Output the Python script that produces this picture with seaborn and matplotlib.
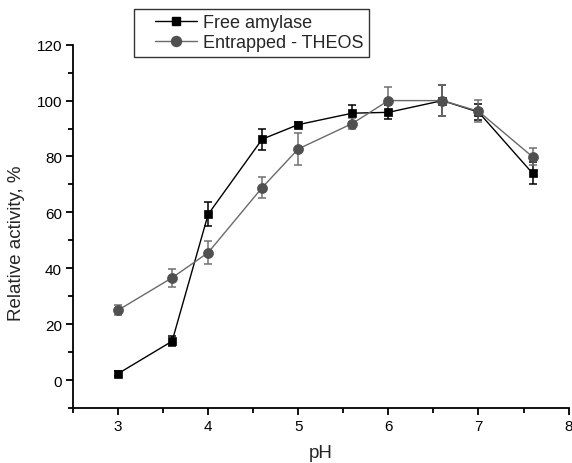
import numpy as np
import pandas as pd
import matplotlib
matplotlib.use("Agg")
import matplotlib.pyplot as plt
from matplotlib.ticker import MultipleLocator
from matplotlib.lines import Line2D
from matplotlib.legend_handler import HandlerLine2D
import seaborn as sns

ph = [3.0, 3.6, 4.0, 4.6, 5.0, 5.6, 6.0, 6.6, 7.0, 7.6]
free_activity = [2.3, 13.9, 59.3, 86.2, 91.4, 95.5, 95.8, 100.0, 95.9, 74.0]
free_err = [0.8, 1.7, 4.3, 3.7, 1.0, 3.0, 2.5, 5.5, 3.0, 4.0]
theos_activity = [25.0, 36.6, 45.6, 68.9, 82.7, 91.8, 100.0, 100.0, 96.2, 79.9]
theos_err = [1.7, 3.2, 4.1, 3.7, 5.7, 2.0, 5.0, 5.5, 4.0, 3.0]
series_names = ["Free amylase", "Entrapped - THEOS"]

sns.set_style("ticks")
plt.rcParams["font.family"] = ["Liberation Sans", "DejaVu Sans"]

df = pd.DataFrame({
    "pH": ph * 2,
    "activity": free_activity + theos_activity,
    "err": free_err + theos_err,
    "series": [series_names[0]] * len(ph) + [series_names[1]] * len(ph),
})

marker_colors = {series_names[0]: "#000000", series_names[1]: "#505050"}
line_colors = {series_names[0]: "#000000", series_names[1]: "#6a6a6a"}
err_colors = {series_names[0]: "#000000", series_names[1]: "#707070"}
markers = {series_names[0]: "s", series_names[1]: "o"}
sizes = {series_names[0]: 5.6, series_names[1]: 7.2}

fig = plt.figure(figsize=(5.72, 4.64), dpi=100)
ax = fig.add_axes([0.1276, 0.1185, 0.8664, 0.783])

for name in series_names:
    sub = df[df["series"] == name]
    ax.errorbar(sub["pH"], sub["activity"], yerr=sub["err"], fmt="none",
                ecolor=err_colors[name], elinewidth=1.1, capsize=3, capthick=1.1,
                zorder=2)
    sns.lineplot(data=sub, x="pH", y="activity", ax=ax, color=line_colors[name],
                 linewidth=1.0, marker=markers[name], markersize=sizes[name],
                 markerfacecolor=marker_colors[name],
                 markeredgecolor=marker_colors[name], markeredgewidth=0.5,
                 errorbar=None, legend=False, zorder=3)

ax.set_xlim(2.5, 8)
ax.set_ylim(-10, 120)
ax.xaxis.set_minor_locator(MultipleLocator(0.5))
ax.yaxis.set_minor_locator(MultipleLocator(10))
ax.set_xticks([3, 4, 5, 6, 7, 8])
ax.set_yticks([0, 20, 40, 60, 80, 100, 120])
ax.tick_params(axis="both", which="major", direction="out", length=5, width=1.3,
               labelsize=11, color="black", labelcolor="black", pad=3)
ax.tick_params(axis="both", which="minor", direction="out", length=3.5,
               width=1.3, color="black")
for side in ("top", "right"):
    ax.spines[side].set_visible(False)
for side in ("left", "bottom"):
    ax.spines[side].set_linewidth(1.3)
    ax.spines[side].set_color("black")

ax.set_xlabel("pH", fontsize=13.5, labelpad=8)
ax.set_ylabel("Relative activity, %", fontsize=13.5)
ax.yaxis.set_label_coords(-0.096, 0.455)


class OffsetLineHandler(HandlerLine2D):
    """Line handle drawn in the right part of the handle box."""

    def get_xdata(self, legend, xdescent, ydescent, width, height, fontsize):
        start = -xdescent + 0.27 * width
        end = -xdescent + width
        xdata = np.array([start, end])
        return xdata, np.array([(start + end) / 2])


handles = [
    Line2D([], [], color=line_colors[n], linewidth=1.0, marker=markers[n],
           markersize=sizes[n], markerfacecolor=marker_colors[n],
           markeredgecolor=marker_colors[n])
    for n in series_names
]
leg = fig.legend(handles, series_names, loc="upper left",
                 bbox_to_anchor=(134 / 572, 1 - 10 / 464), frameon=True,
                 fancybox=False, fontsize=13, handlelength=3.2,
                 handletextpad=0.3, borderpad=0.3, labelspacing=0.15,
                 borderaxespad=0,
                 handler_map={Line2D: OffsetLineHandler()})
leg.get_frame().set_edgecolor("black")
leg.get_frame().set_linewidth(1.0)

fig.savefig("out.png", dpi=100)
